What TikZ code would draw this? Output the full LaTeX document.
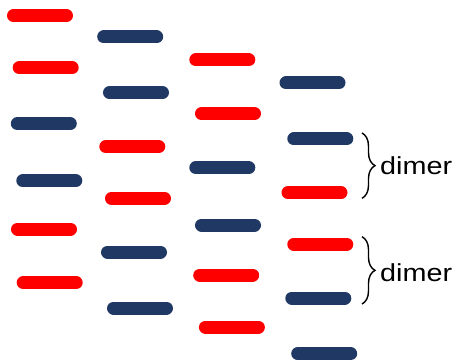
\documentclass[tikz,border=0pt]{standalone}
\usepackage{fontspec}
\setmainfont{Liberation Sans}
\usetikzlibrary{decorations.pathreplacing}

\definecolor{barred}{RGB}{255,0,0}
\definecolor{barblue}{RGB}{31,56,100}

\tikzset{
    bar/.style={line width=13pt, line cap=round},
    redbar/.style={bar, draw=barred},
    bluebar/.style={bar, draw=barblue},
    dimerbrace/.style={decorate, decoration={brace, amplitude=13pt}, line width=1.4pt},
    dimerlabel/.style={anchor=base west, inner sep=0pt, font=\fontsize{24.6}{26}\selectfont, xscale=1.17}
}

\begin{document}
\begin{tikzpicture}[x=1pt, y=-1pt]
        \useasboundingbox (0,0) rectangle (456,361);

        % Column 1
        \foreach \x/\y/\c in {40/15.7/redbar, 45.7/67.7/redbar, 43.8/123.7/bluebar,
                              49.3/180.8/bluebar, 44/229/redbar, 49.7/282.7/redbar} {
            \draw[\c] (\x-26.5,\y) -- (\x+26.5,\y);
        }

        % Column 2
        \foreach \x/\y/\c in {130.2/37/bluebar, 136/92.7/bluebar, 132.3/146.7/redbar,
                              138/198.3/redbar, 134/252/bluebar, 140/308/bluebar} {
            \draw[\c] (\x-26.5,\y) -- (\x+26.5,\y);
        }

        % Column 3
        \foreach \x/\y/\c in {222.3/60/redbar, 228/113.7/redbar, 222.3/167.7/bluebar,
                              228/225/bluebar, 226.2/275/redbar, 231.9/327/redbar} {
            \draw[\c] (\x-26.5,\y) -- (\x+26.5,\y);
        }

        % Column 4
        \foreach \x/\y/\c in {312.5/83/bluebar, 320.3/139/bluebar, 314.5/192.7/redbar,
                              320.3/244.3/redbar, 318.3/298/bluebar, 324.2/353.7/bluebar} {
            \draw[\c] (\x-26.5,\y) -- (\x+26.5,\y);
        }

        % Braces for the dimers
        \coordinate (topA) at (362,133);
        \coordinate (botA) at (362,198.3);
        \coordinate (topB) at (362,236.7);
        \coordinate (botB) at (362,304);
        \draw[dimerbrace] (topA) -- (botA);
        \draw[dimerbrace] (topB) -- (botB);

        \node[dimerlabel] (dimerA) at (380,174.3) {dimer};
        \node[dimerlabel] (dimerB) at (380,281) {dimer};

    \end{tikzpicture}
\end{document}
